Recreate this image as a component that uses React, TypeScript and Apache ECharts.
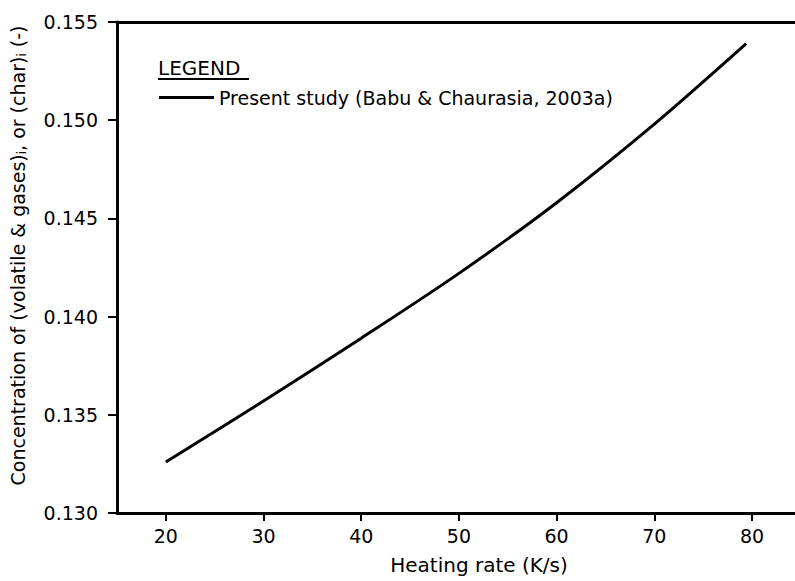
import React, { useEffect, useRef } from "react";
import * as echarts from "echarts";

const heatingRate = [20, 30, 40, 50, 60, 70, 79.4];
const concentration = [0.1326, 0.1357, 0.1389, 0.1422, 0.1458, 0.1498, 0.1539];
const xTicks = [20, 30, 40, 50, 60, 70, 80];
const seriesName = "Present study (Babu & Chaurasia, 2003a)";

export default function App() {
  const ref = useRef<HTMLDivElement>(null);
  useEffect(() => {
    const chart = echarts.init(ref.current!, null, { renderer: "svg" });
    const font = "DejaVu Sans, Verdana, sans-serif";
    chart.setOption({
      animation: false,
      backgroundColor: "#fff",
      grid: { left: 117, right: 0, top: 22, bottom: 68 },
      legend: {
        left: 154,
        top: 83,
        itemWidth: 55,
        itemHeight: 14,
        itemGap: 4,
        textStyle: { fontFamily: font, fontSize: 19, color: "#000" },
        data: [{ name: seriesName, icon: "path://M0,6 L55,6 L55,9 L0,9 Z" }],
      },
      graphic: [
        {
          type: "text",
          left: 158,
          top: 58,
          style: { text: "LEGEND", font: "20px " + font, fill: "#000" },
        },
        {
          type: "line",
          shape: { x1: 158, y1: 79, x2: 249, y2: 79 },
          style: { stroke: "#000", lineWidth: 2 },
        },
      ],
      xAxis: [
        {
          type: "value",
          min: 15,
          max: 84.4,
          name: "Heating rate (K/s)",
          nameLocation: "middle",
          nameGap: 42,
          nameTextStyle: { fontFamily: font, fontSize: 20, color: "#000", padding: [0, 0, 0, 46] },
          axisLine: { show: true, onZero: false, lineStyle: { color: "#000", width: 3 } },
          axisTick: { show: true, customValues: xTicks, length: 8, lineStyle: { color: "#000", width: 2 } },
          axisLabel: { customValues: xTicks, margin: 13, fontFamily: font, fontSize: 19, color: "#000" },
          splitLine: { show: false },
        },
        {
          type: "value",
          position: "top",
          min: 15,
          max: 84.4,
          axisLine: { show: true, onZero: false, lineStyle: { color: "#000", width: 3 } },
          axisTick: { show: false },
          axisLabel: { show: false },
          splitLine: { show: false },
        },
      ],
      yAxis: {
        type: "value",
        min: 0.13,
        max: 0.155,
        interval: 0.005,
        name: "Concentration of (volatile & gases){s|i}, or (char){s|i} (-)",
        nameLocation: "middle",
        nameRotate: 90,
        nameGap: 89,
        nameTextStyle: {
          fontFamily: font,
          fontSize: 19,
          color: "#000",
          padding: [0, 0, 0, 24],
          rich: { s: { fontFamily: font, fontSize: 12, color: "#000", verticalAlign: "bottom", padding: [8, 0, 0, 0] } },
        },
        axisLine: { show: true, onZero: false, lineStyle: { color: "#000", width: 3 } },
        axisTick: { show: true, length: 9, lineStyle: { color: "#000", width: 2 } },
        axisLabel: {
          margin: 19,
          fontFamily: font,
          fontSize: 19,
          color: "#000",
          formatter: (v: number) => v.toFixed(3),
        },
        splitLine: { show: false },
      },
      series: [
        {
          name: seriesName,
          type: "line",
          smooth: 0.3,
          symbol: "none",
          lineStyle: { color: "#000", width: 3 },
          itemStyle: { color: "#000" },
          data: heatingRate.map((x, i) => [x, concentration[i]]),
        },
      ],
    });
    return () => chart.dispose();
  }, []);
  return <div ref={ref} style={{ position: "fixed", left: 0, top: 0, width: 795, height: 581 }} />;
}
